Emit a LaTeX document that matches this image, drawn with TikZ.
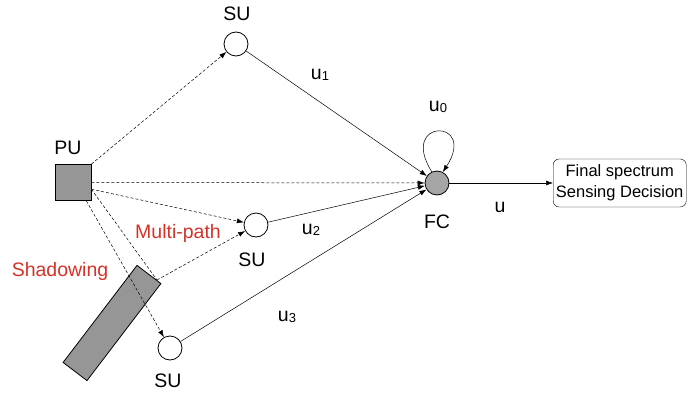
\documentclass[tikz,border=0pt]{standalone}
\usepackage{fontspec}
\setmainfont{Liberation Sans}
\usetikzlibrary{arrows.meta,calc}
\definecolor{boxgray}{RGB}{150,150,150}
\definecolor{fcgray}{RGB}{165,165,165}
\definecolor{labred}{RGB}{215,50,40}
\newcommand{\usub}[1]{u\raisebox{-0.5pt}{\fontsize{13}{13}\selectfont #1}}
\tikzset{
  every node/.style={font=\fontsize{19.5}{21}\selectfont},
  su/.style={circle,draw,thick,minimum size=24pt,inner sep=0pt},
  fc/.style={circle,draw,thick,fill=fcgray,minimum size=24pt,inner sep=0pt},
  pu/.style={rectangle,draw,thick,fill=boxgray,minimum size=36pt,inner sep=0pt},
  arr/.style={-{Latex[length=7pt,width=5pt]},line width=0.5pt},
  darr/.style={arr,dash pattern=on 3pt off 2pt},
  lbl/.style={inner sep=0pt},
  redlbl/.style={inner sep=0pt,text=labred},
  decbox/.style={draw,rounded corners=6pt,anchor=west,align=center,
    font=\fontsize{16.5}{21}\selectfont,inner xsep=0pt,minimum height=48pt,minimum width=133pt},
}
\begin{document}
\begin{tikzpicture}[x=1pt,y=-1pt]
\useasboundingbox (0,0) rectangle (688,396);
% nodes
\node[su] (SU1) at (236,44) {};
\node[su] (SU2) at (256,225) {};
\node[su] (SU3) at (170,348) {};
\node[fc] (FC) at (437,183) {};
\node[pu] (PU) at (73,182.5) {};
\node[draw,thick,fill=boxgray,minimum width=122pt,minimum height=30pt,inner sep=0pt,rotate=52.7] (OB) at (112,323) {};
\node[decbox] (DEC) at (553,183) {Final spectrum\\Sensing Decision};
\coordinate (HIT) at (157,280);
% labels
\node[lbl] (LSU1) at (237,14) {SU};
\node[lbl] (LSU2) at (252,260) {SU};
\node[lbl] (LSU3) at (168,381) {SU};
\node[lbl] (LPU) at (68,148) {PU};
\node[lbl] (LFC) at (437,222) {FC};
\node[lbl] (Lu1) at (320,75) {\usub{1}};
\node[lbl] (Lu2) at (311,230) {\usub{2}};
\node[lbl] (Lu3) at (287,317) {\usub{3}};
\node[lbl] (Lu0) at (438,107) {\usub{0}};
\node[lbl] (Lu) at (500,207) {u};
\node[redlbl] (LSH) at (60,271) {Shadowing};
\node[redlbl] (LMP) at (178,233) {Multi-path};
% dashed arrows from PU
\draw[darr] (PU.north east) -- (SU1);
\draw[darr] (PU.east) -- (FC);
\draw[darr] (PU.-20) -- (SU2);
\draw[dash pattern=on 3pt off 2pt,line width=0.5pt] (PU.-20) -- (HIT);
\draw[darr] (HIT) -- (SU2);
\draw[darr] (PU.-54) -- (SU3);
% solid arrows to FC
\draw[arr] (SU1) -- (FC);
\draw[arr] (SU2) -- (FC);
\draw[arr] (SU3) -- (FC);
\draw[arr] (FC.115) .. controls (398,118) and (478,118) .. (FC.62);
\draw[arr] (FC) -- (DEC.west);
\end{tikzpicture}
\end{document}
